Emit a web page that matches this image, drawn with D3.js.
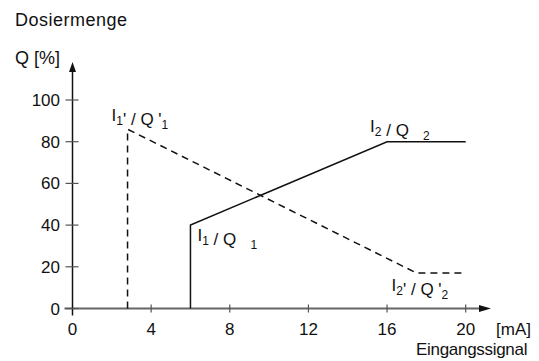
<!DOCTYPE html>
<html>
<head>
<meta charset="utf-8">
<script src="https://cdn.jsdelivr.net/npm/d3@7"></script>
<style>
  body { margin: 0; background: #fff; }
  text { font-family: "Liberation Sans", Arial, sans-serif; fill: #111; }
</style>
</head>
<body>
<script>
// Kennlinien (Eingangssignal in mA, Dosiermenge in %)
const signalDirect = [6, 6, 16, 20];
const quantityDirect = [0, 40, 80, 80];
const signalInverse = [2.8, 2.8, 17.5, 20];
const quantityInverse = [0, 86, 17, 17];

// Achsenbeschriftungen
const xTicks = [0, 4, 8, 12, 16, 20];
const yTicks = [0, 20, 40, 60, 80, 100];

// Punktbezeichnungen: Textteile [Haupttext, Index] und Ankerpunkt (mA, %)
const labelParts = [
  [['I', '1'], ["' / Q '", '1']],
  [['I', '1'], [' / Q   ', '1']],
  [['I', '2'], [' / Q   ', '2']],
  [['I', '2'], ["' / Q '", '2']]
];
const labelAnchorSignal = [2.8, 6, 16, 17.5];
const labelAnchorQuantity = [86, 40, 80, 17];

// Lage der Bezeichnungen relativ zum Ankerpunkt (Pixel)
const labelOffsets = [[-16, -8], [7, 16], [-17, -10], [-25, 18]];

const width = 539, height = 361;
const svg = d3.select('body').append('svg')
  .attr('width', width)
  .attr('height', height);

const x = d3.scaleLinear().domain([0, 20]).range([72.5, 465.7]);
const y = d3.scaleLinear().domain([0, 100]).range([308.5, 100]);

// x-Achse (grau) mit Pfeil
svg.append('line')
  .attr('x1', x(0) - 8).attr('x2', 481)
  .attr('y1', y(0)).attr('y2', y(0))
  .attr('stroke', '#666').attr('stroke-width', 1.8);
svg.append('path')
  .attr('d', `M 479 ${y(0) - 3.5} L 491 ${y(0)} L 479 ${y(0) + 3.5} Z`)
  .attr('fill', '#111');
svg.selectAll('line.xtick').data(xTicks.slice(1)).enter().append('line')
  .attr('class', 'xtick')
  .attr('x1', d => x(d)).attr('x2', d => x(d))
  .attr('y1', y(0) - 4).attr('y2', y(0) + 4)
  .attr('stroke', '#555').attr('stroke-width', 1.2);
svg.selectAll('text.xlab').data(xTicks).enter().append('text')
  .attr('class', 'xlab')
  .attr('x', d => x(d)).attr('y', 335)
  .attr('text-anchor', 'middle')
  .attr('font-size', 17)
  .text(d => d);

// y-Achse (schwarz) mit Pfeil
svg.append('line')
  .attr('x1', x(0)).attr('x2', x(0))
  .attr('y1', y(0) + 7).attr('y2', 70)
  .attr('stroke', '#111').attr('stroke-width', 1.5);
svg.append('path')
  .attr('d', `M ${x(0) - 3.5} 72 L ${x(0)} 62 L ${x(0) + 3.5} 72 Z`)
  .attr('fill', '#111');
svg.selectAll('line.ytick').data(yTicks).enter().append('line')
  .attr('class', 'ytick')
  .attr('x1', x(0) - 7).attr('x2', x(0) + 6)
  .attr('y1', d => y(d)).attr('y2', d => y(d))
  .attr('stroke', '#555').attr('stroke-width', 1.2);
svg.selectAll('text.ylab').data(yTicks).enter().append('text')
  .attr('class', 'ylab')
  .attr('x', 60).attr('y', d => y(d) + 6)
  .attr('text-anchor', 'end')
  .attr('font-size', 17)
  .text(d => d);

// Titel und Einheiten
svg.append('text').attr('x', 15).attr('y', 26).attr('font-size', 18)
  .attr('letter-spacing', 0.5).text('Dosiermenge');
svg.append('text').attr('x', 15).attr('y', 64).attr('font-size', 18)
  .text('Q [%]');
svg.append('text').attr('x', 496).attr('y', 335).attr('font-size', 17).text('[mA]');
svg.append('text').attr('x', 416).attr('y', 355).attr('font-size', 17)
  .attr('letter-spacing', -0.3).text('Eingangssignal');

// Kennlinien
const line = d3.line().x(d => x(d[0])).y(d => y(d[1]));
svg.append('path')
  .datum(d3.zip(signalDirect, quantityDirect))
  .attr('d', line)
  .attr('fill', 'none').attr('stroke', '#111').attr('stroke-width', 1.5);
svg.append('path')
  .datum(d3.zip(signalInverse, quantityInverse))
  .attr('d', line)
  .attr('fill', 'none').attr('stroke', '#111').attr('stroke-width', 1.5)
  .attr('stroke-dasharray', '7,5');

// Punktbezeichnungen
labelParts.forEach((parts, i) => {
  const t = svg.append('text')
    .attr('x', x(labelAnchorSignal[i]) + labelOffsets[i][0])
    .attr('y', y(labelAnchorQuantity[i]) + labelOffsets[i][1])
    .attr('font-size', 17)
    .attr('xml:space', 'preserve');
  parts.forEach(([main, sub]) => {
    t.append('tspan').attr('dy', 0).text(main);
    t.append('tspan').attr('font-size', 12).attr('dy', 4).text(sub);
    t.append('tspan').attr('dy', -4).text('');
  });
});
</script>
</body>
</html>
